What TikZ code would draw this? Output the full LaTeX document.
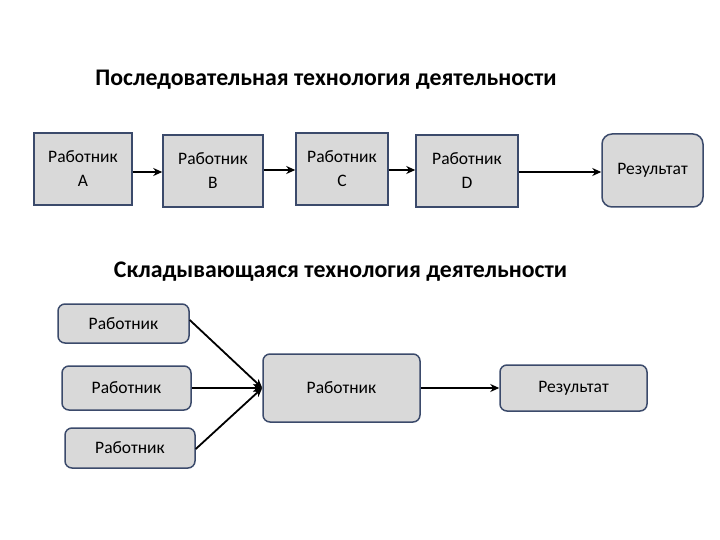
\documentclass[tikz,border=0pt]{standalone}
\usepackage{fontspec}
\setmainfont{Carlito}
\usetikzlibrary{arrows.meta}
\definecolor{boxfill}{HTML}{D9D9D9}
\definecolor{boxline}{HTML}{3B4A6B}
\tikzset{
  sqbox/.style={draw=boxline, line width=1.5pt, fill=boxfill, inner sep=0pt, align=center, font=\fontsize{17.5}{24}\selectfont},
  rdbox/.style={sqbox, rounded corners=7pt},
  conn/.style={line width=1.8pt, -{Stealth[length=9pt,width=8pt]}},
  ttl/.style={font=\fontsize{23.8}{28}\selectfont\bfseries, inner sep=0pt}
}
\begin{document}
\begin{tikzpicture}[x=1pt,y=-1pt]
\useasboundingbox (0,0) rectangle (720,540);
\node[ttl] (t1) at (326,80) {Последовательная технология деятельности};
\node[sqbox, minimum width=98pt, minimum height=72pt] (a) at (83,169) {Работник\\A};
\node[sqbox, minimum width=100pt, minimum height=72pt] (b) at (213,171) {Работник\\B};
\node[sqbox, minimum width=92pt, minimum height=72pt] (c) at (342,169) {Работник\\C};
\node[sqbox, minimum width=102pt, minimum height=72pt] (d) at (467,171) {Работник\\D};
\node[rdbox, rounded corners=10pt, minimum width=101pt, minimum height=73pt] (r1) at (652.5,170.5) {Результат};
\draw[conn] (a.east |- 0,172) -- (b.west |- 0,172);
\draw[conn] (b.east |- 0,170) -- (c.west |- 0,170);
\draw[conn] (c.east |- 0,170) -- (d.west |- 0,170);
\draw[conn] (d.east |- 0,172) -- (r1.west |- 0,172);
\node[ttl] (t2) at (340.5,272) {Складывающаяся технология деятельности};
\node[rdbox, minimum width=131pt, minimum height=39pt] (w1) at (123.5,323.5) {Работник};
\node[rdbox, minimum width=129pt, minimum height=44pt] (w2) at (126.5,388) {Работник};
\node[rdbox, minimum width=130pt, minimum height=40pt] (w3) at (130,448) {Работник};
\node[rdbox, minimum width=157pt, minimum height=68pt] (w) at (341.5,388) {Работник};
\node[rdbox, minimum width=147pt, minimum height=46pt] (r2) at (573.5,388) {Результат};
\draw[conn] (w1.east |- 0,320) -- (w.west);
\draw[conn] (w2.east) -- (w.west);
\draw[conn] (w3.east |- 0,449) -- (w.west);
\draw[conn] (w.east) -- (r2.west);
\end{tikzpicture}
\end{document}
